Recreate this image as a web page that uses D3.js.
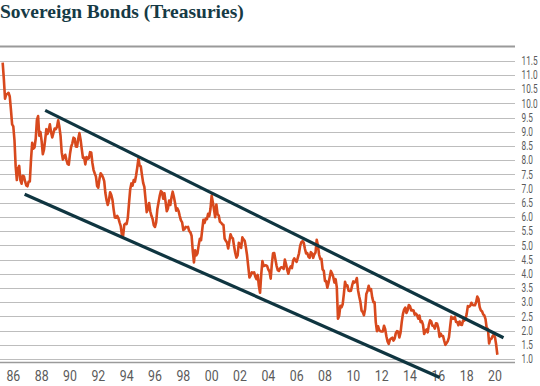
<!DOCTYPE html>
<html lang="en">
  <head>
    <meta charset="UTF-8" />
    <title>Sovereign Bonds (Treasuries)</title>
    <script src="https://cdn.jsdelivr.net/npm/d3@7/dist/d3.min.js"></script>
    <style>
      body {
        margin: 0;
        background: #fff;
      }
      .title {
        font-family: "Liberation Serif", serif;
        font-weight: bold;
        font-size: 19.5px;
        fill: #163a45;
      }
      .tick-label {
        font-family: "Roboto", "Liberation Sans", sans-serif;
        fill: #5a5a5a;
      }
    </style>
  </head>
  <body>
    <svg width="540" height="386"></svg>
    <script>
      // monthly 10y yield, starting April 1985
      const firstMonth = 1985 + 3 / 12;
      const yields = [
        11.43, 10.85, 10.16, 10.31, 10.33, 10.37, 10.24, 9.78, 9.26,
        9.19, 8.7, 7.78, 7.3, 7.71, 7.8, 7.3, 7.17, 7.45, 7.43, 7.25, 7.11,
        7.08, 7.25, 7.25, 8.02, 8.61, 8.4, 8.45, 8.76, 9.42, 9.55, 8.86, 8.99,
        8.67, 8.21, 8.37, 8.72, 9.09, 8.92, 9.06, 9.26, 8.98, 8.8, 8.96, 9.11,
        9.09, 9.17, 9.4, 9.18, 8.86, 8.28, 8.02, 8.11, 8.19, 8.01, 7.87, 7.84,
        8.21, 8.47, 8.59, 8.79, 8.76, 8.48, 8.47, 8.75, 8.95, 8.72, 8.39, 8.08,
        8.09, 7.85, 8.11, 8.04, 8.07, 8.28, 8.27, 7.9, 7.65, 7.53, 7.42, 7.09,
        7.03, 7.34, 7.54, 7.48, 7.39, 7.26, 6.84, 6.59, 6.42, 6.59, 6.87, 6.77,
        6.6, 6.26, 5.98, 5.97, 6.04, 5.96, 5.81, 5.68, 5.36, 5.33, 5.72, 5.77,
        5.75, 5.97, 6.48, 6.97, 7.18, 7.1, 7.3, 7.24, 7.46, 7.74, 8.05, 7.81,
        7.78, 7.47, 7.2, 7.06, 6.63, 6.17, 6.28, 6.49, 6.2, 6.04, 5.93, 5.71,
        5.65, 5.81, 6.27, 6.51, 6.74, 6.91, 6.87, 6.64, 6.83, 6.53, 6.2, 6.3,
        6.58, 6.42, 6.69, 6.89, 6.71, 6.49, 6.22, 6.3, 6.21, 6.03, 5.88, 5.81,
        5.54, 5.57, 5.65, 5.64, 5.65, 5.5, 5.46, 5.34, 4.81, 4.4, 4.83, 4.65,
        4.72, 5.0, 5.23, 5.18, 5.54, 5.9, 5.79, 5.94, 5.92, 6.11, 6.03, 6.28,
        6.75, 6.52, 6.26, 5.99, 6.44, 6.1, 6.05, 5.83, 5.8, 5.74, 5.72, 5.24,
        5.16, 5.1, 4.89, 5.14, 5.39, 5.28, 5.24, 4.97, 4.73, 4.57, 4.65, 5.09,
        5.04, 4.91, 5.28, 5.21, 5.16, 4.93, 4.65, 4.26, 3.87, 3.94, 4.05, 4.03,
        4.05, 3.9, 3.81, 3.96, 3.57, 3.33, 3.98, 4.45, 4.27, 4.29, 4.3, 4.27,
        4.15, 4.08, 3.83, 4.35, 4.72, 4.73, 4.5, 4.28, 4.13, 4.1, 4.19, 4.23,
        4.22, 4.17, 4.5, 4.34, 4.14, 4.0, 4.18, 4.26, 4.2, 4.46, 4.54, 4.47,
        4.42, 4.57, 4.72, 4.99, 5.11, 5.15, 5.09, 4.88, 4.72, 4.73, 4.6, 4.56,
        4.76, 4.72, 4.56, 4.69, 4.75, 5.2, 5.0, 4.67, 4.52, 4.53, 4.15, 4.1,
        3.74, 3.74, 3.51, 3.68, 3.88, 4.1, 4.01, 3.89, 3.69, 3.81, 3.53, 2.42,
        2.52, 2.87, 2.82, 2.93, 3.29, 3.72, 3.56, 3.59, 3.4, 3.39, 3.4, 3.59,
        3.73, 3.69, 3.73, 3.85, 3.42, 3.2, 3.01, 2.7, 2.65, 2.54, 2.76, 3.29,
        3.39, 3.58, 3.41, 3.46, 3.17, 3.0, 3.0, 2.3, 1.98, 2.15, 2.01, 1.98,
        1.97, 1.97, 2.17, 2.05, 1.8, 1.62, 1.53, 1.68, 1.72, 1.75, 1.65, 1.72,
        1.91, 1.98, 1.96, 1.76, 1.93, 2.3, 2.58, 2.74, 2.81, 2.62, 2.72, 2.9,
        2.86, 2.71, 2.72, 2.71, 2.56, 2.6, 2.54, 2.42, 2.53, 2.3, 2.33, 2.21,
        1.88, 1.98, 2.04, 1.94, 2.2, 2.36, 2.32, 2.17, 2.17, 2.07, 2.26, 2.24,
        2.09, 1.78, 1.89, 1.81, 1.81, 1.64, 1.5, 1.56, 1.63, 1.76, 2.14, 2.49,
        2.43, 2.42, 2.48, 2.3, 2.3, 2.19, 2.32, 2.21, 2.2, 2.36, 2.35, 2.4,
        2.58, 2.86, 2.84, 2.87, 2.98, 2.91, 2.89, 2.89, 3.0, 3.2, 3.12, 2.83,
        2.71, 2.68, 2.57, 2.53, 2.4, 2.07, 2.06, 1.55, 1.7, 1.71, 1.81, 1.86,
        1.76, 1.5, 1.15,
      ];

      // channel lines [year, yield]
      const upperTrend = [
        [1988.25, 9.75],
        [2020.6, 1.75],
      ];
      const lowerTrend = [
        [1986.8, 6.8],
        [2016.1, 0.35],
      ];

      const xTicks = d3.range(1986, 2021, 2);
      const yTicks = d3.range(1, 11.51, 0.5);

      const svg = d3.select("svg");

      const x = d3.scaleLinear().domain([1986, 2020]).range([13.3, 495]);
      const y = d3.scaleLinear().domain([1, 11.5]).range([359, 60.7]);

      const gridRight = 515;

      svg
        .append("text")
        .attr("class", "title")
        .attr("x", 0)
        .attr("y", 18)
        .text("Sovereign Bonds (Treasuries)");

      // gridlines
      svg
        .append("g")
        .selectAll("line")
        .data(yTicks)
        .enter()
        .append("line")
        .attr("x1", 0)
        .attr("x2", gridRight)
        .attr("y1", (d) => Math.round(y(d)) + 0.5)
        .attr("y2", (d) => Math.round(y(d)) + 0.5)
        .attr("stroke", "#bdbdbd")
        .attr("stroke-width", 1);

      // frame top and bottom
      svg
        .append("line")
        .attr("x1", 0)
        .attr("x2", gridRight)
        .attr("y1", y(12))
        .attr("y2", y(12))
        .attr("stroke", "#9a9a9a")
        .attr("stroke-width", 2);

      svg
        .append("line")
        .attr("x1", 0)
        .attr("x2", gridRight)
        .attr("y1", y(1) + 3.5)
        .attr("y2", y(1) + 3.5)
        .attr("stroke", "#9a9a9a")
        .attr("stroke-width", 1.5);

      // right labels, squeezed to look condensed
      svg
        .append("g")
        .selectAll("text")
        .data(yTicks)
        .enter()
        .append("text")
        .attr("class", "tick-label")
        .attr("transform", (d) => `translate(521.5,${y(d) + 4.3}) scale(0.66,1)`)
        .attr("font-size", 12.5)
        .text((d) => d.toFixed(1));

      // bottom labels
      svg
        .append("g")
        .selectAll("text")
        .data(xTicks)
        .enter()
        .append("text")
        .attr("class", "tick-label")
        .attr("transform", (d) => `translate(${x(d)},381) scale(0.85,1)`)
        .attr("text-anchor", "middle")
        .attr("font-size", 14.5)
        .text((d) => String(d % 100).padStart(2, "0"));

      const line = d3
        .line()
        .x((d, i) => x(firstMonth + i / 12))
        .y((d) => y(d));

      svg
        .append("path")
        .datum(yields)
        .attr("fill", "none")
        .attr("stroke", "#d8491d")
        .attr("stroke-width", 2.6)
        .attr("stroke-linejoin", "round")
        .attr("d", line);

      const trend = d3
        .line()
        .x((d) => x(d[0]))
        .y((d) => y(d[1]));

      svg
        .append("g")
        .selectAll("path")
        .data([upperTrend, lowerTrend])
        .enter()
        .append("path")
        .attr("fill", "none")
        .attr("stroke", "#0f3540")
        .attr("stroke-width", 3.2)
        .attr("d", trend);
    </script>
  </body>
</html>
